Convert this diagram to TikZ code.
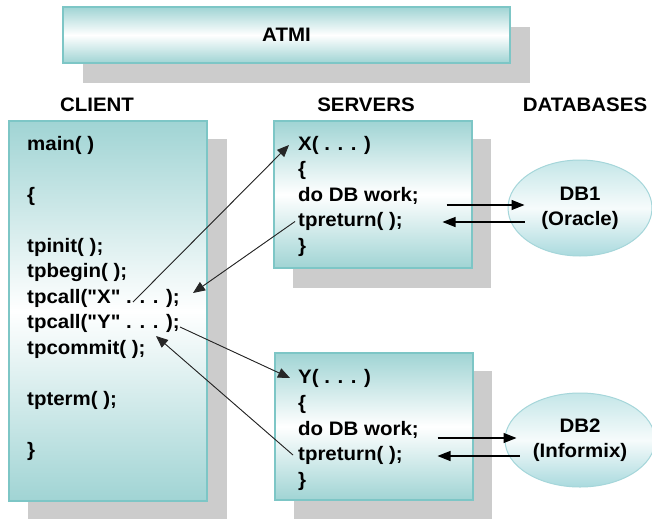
\documentclass[tikz,border=0pt]{standalone}
\usepackage{fontspec}
\setmainfont{Liberation Sans}[FakeStretch=1.05]
\newfontfamily\qfont{Liberation Sans}[FakeStretch=1.05,Ligatures=ResetAll]
\usetikzlibrary{arrows.meta,shapes.geometric}
\definecolor{tealfill}{RGB}{160,212,212}
\definecolor{tealline}{RGB}{125,198,198}
\definecolor{shad}{RGB}{204,204,204}
\definecolor{dbtop}{RGB}{196,230,232}
\definecolor{dbbot}{RGB}{170,218,222}
\definecolor{dbline}{RGB}{165,214,218}
\newcommand\dq{{\qfont\bfseries\symbol{34}}}
\begin{document}
\begin{tikzpicture}[x=1pt,y=-1pt,
  txt/.style={font=\bfseries\fontsize{19.5}{25}\selectfont, inner sep=0pt},
  code/.style={txt, anchor=west},
  panel/.style={draw=tealline, line width=1.2pt, top color=tealfill, bottom color=tealfill, middle color=white, inner sep=0pt},
  dbell/.style={ellipse, draw=dbline, line width=1pt, top color=dbtop, bottom color=dbbot, middle color=white!85!dbtop, inner sep=0pt, align=center, txt},
  arr/.style={-{Triangle[length=12pt,width=10pt]}, line width=0.9pt, draw=black!85, fill=black},
  flow/.style={-{Triangle[length=13pt,width=10pt]}, line width=1.1pt}
]
\path[fill=white, use as bounding box] (0,0) rectangle (652,519);

% shadows
\fill[shad] (83,27) rectangle (530,83);
\fill[shad] (28,139) rectangle (227,519);
\fill[shad] (293,139) rectangle (491,288);
\fill[shad] (294,371) rectangle (492,519);

% ATMI
\node[panel, minimum width=447pt, minimum height=56pt, txt] (atmi) at (286.5,35) {ATMI};

% headers
\node[txt] (hclient) at (97,105) {CLIENT};
\node[txt] (hservers) at (366,105) {SERVERS};
\node[txt] (hdb) at (585,105) {DATABASES};

% client box
\node[panel, minimum width=198pt, minimum height=380pt] (client) at (108,311) {};
\node[code] (cmain) at (27,145) {main( )};
\node[code] (copen) at (27,196) {\{};
\node[code] (cinit) at (27,247) {tpinit( );};
\node[code] (cbegin) at (27,272.5) {tpbegin( );};
\node[code] (tX) at (27,298) {tpcall(\dq X\dq{} . . . );};
\node[code] (tY) at (27,323.5) {tpcall(\dq Y\dq{} . . . );};
\node[code] (ccommit) at (27,349) {tpcommit( );};
\node[code] (cterm) at (27,400) {tpterm( );};
\node[code] (cclose) at (27,451) {\}};

% server X
\node[panel, minimum width=198pt, minimum height=147pt] (srvx) at (373,194.5) {};
\node[code] (xh) at (298,145) {X( . . . )};
\node[code] (xb) at (298,170.5) {\{};
\node[code] (xdb) at (298,196) {do DB work;};
\node[code] (xr) at (298,221.5) {tpreturn( );};
\node[code] (xe) at (298,247) {\}};

% server Y
\node[panel, minimum width=198pt, minimum height=147pt] (srvy) at (374,426.5) {};
\node[code] (yh) at (298,378) {Y( . . . )};
\node[code] (yb) at (298,404) {\{};
\node[code] (ydb) at (298,430) {do DB work;};
\node[code] (yr) at (298,455) {tpreturn( );};
\node[code] (ye) at (298,481) {\}};

% databases
\node[dbell, minimum width=144pt, minimum height=96pt] (db1) at (580,208) {DB1\\(Oracle)};
\node[dbell, minimum width=150pt, minimum height=94pt] (db2) at (580,440) {DB2\\(Informix)};

% client-side ends of the calls
\coordinate (c1) at (133,302);
\coordinate (c2) at (193,293);
\coordinate (c3) at (180,327);
\coordinate (c4) at (156,336);

\draw[arr] (c1) -- ([xshift=-9pt]xh.west);
\draw[arr] ([xshift=-3pt]xr.west) -- (c2);
\draw[arr] (c3) -- ([xshift=-8pt]yh.west);
\draw[arr] ([xshift=-5pt]yr.west) -- (c4);

% database traffic
\draw[flow] ([xshift=-61pt,yshift=3pt]db1.west) -- ([xshift=17pt,yshift=3pt]db1.west);
\draw[flow] ([xshift=17pt,yshift=-14pt]db1.west) -- ([xshift=-65pt,yshift=-14pt]db1.west);
\draw[flow] ([xshift=-67pt,yshift=2pt]db2.west) -- ([xshift=12pt,yshift=2pt]db2.west);
\draw[flow] ([xshift=15pt,yshift=-16pt]db2.west) -- ([xshift=-67pt,yshift=-16pt]db2.west);
\end{tikzpicture}
\end{document}
